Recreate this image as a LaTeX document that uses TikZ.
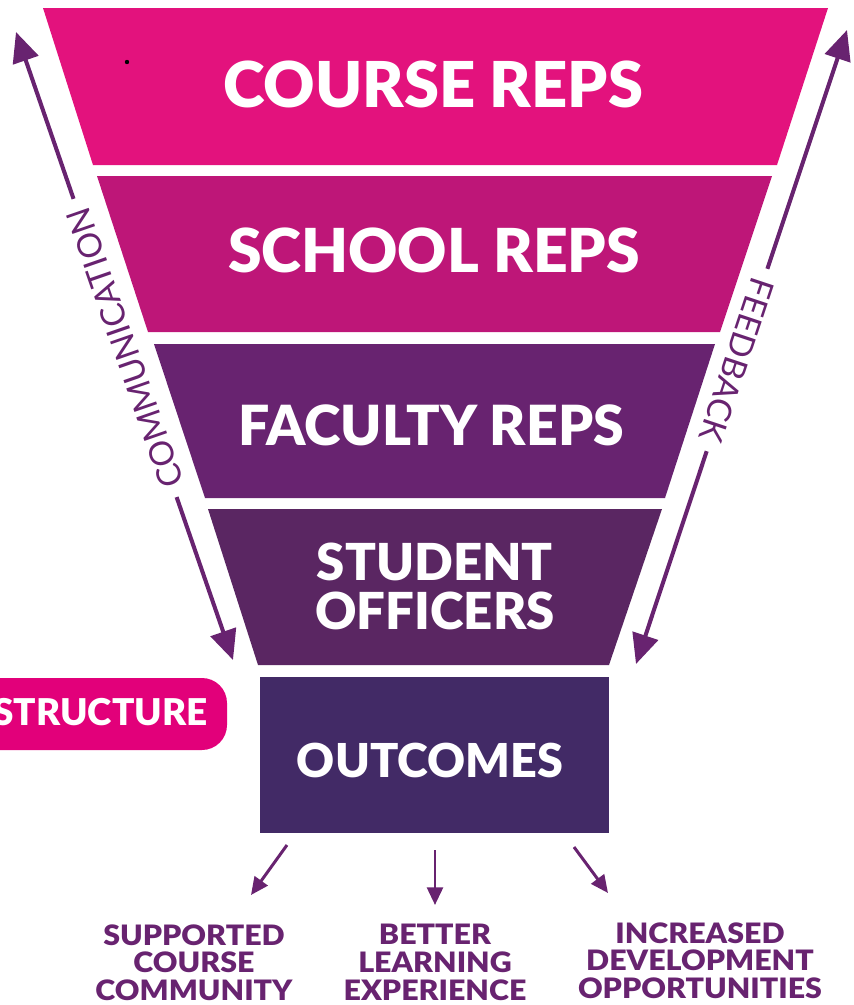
\documentclass[tikz,border=0pt]{standalone}
\usepackage{fontspec}
\setmainfont{Lato}
\newfontfamily\heavyfont{Lato Black}
\usepackage{tikz}
\usetikzlibrary{arrows.meta,positioning}
\definecolor{courseC}{RGB}{227,18,125}
\definecolor{schoolC}{RGB}{190,22,120}
\definecolor{facultyC}{RGB}{104,35,112}
\definecolor{officerC}{RGB}{90,38,98}
\definecolor{outcomeC}{RGB}{66,42,102}
\definecolor{arrowC}{RGB}{104,35,112}
\definecolor{pillC}{RGB}{226,0,122}
\tikzset{
  bandlab/.style={font=\heavyfont\fontsize{36}{40}\selectfont, text=white, inner sep=0pt, anchor=base},
  smalllab/.style={font=\heavyfont\fontsize{29}{36}\selectfont, text=white, inner sep=0pt, anchor=base},
  sidelab/.style={font=\fontsize{19}{22}\selectfont, text=arrowC, inner sep=6pt},
  flow/.style={line width=2.3pt, draw=arrowC, -{Triangle[length=17pt,width=15pt]}},
  outflow/.style={line width=1.7pt, draw=arrowC, -{Triangle[length=10pt,width=9pt]}},
  result/.style={font=\heavyfont\fontsize{16}{15.8}\selectfont, text=arrowC, align=center,
    inner sep=0pt, anchor=north, xscale=1.08},
  outbox/.style={fill=outcomeC, text=white, minimum width=6.98cm, minimum height=3.12cm, inner sep=0pt}
}

\begin{document}
\begin{tikzpicture}[x=0.02cm,y=-0.02cm]
\useasboundingbox (0,0) rectangle (853,1005);

% Funnel bands
\fill[courseC] (43,8) -- (828,8) -- (777,165) -- (93,165) -- cycle;
\fill[schoolC] (97,176) -- (772,176) -- (720,332) -- (148,332) -- cycle;
\fill[facultyC] (154,344) -- (715,344) -- (665,498) -- (205,498) -- cycle;
\fill[officerC] (208,509) -- (662,509) -- (609,665) -- (258,665) -- cycle;
\fill (127,62) circle (2.2);

\node[bandlab] (course) at (433,107) {COURSE REPS};
\node[bandlab, font=\heavyfont\fontsize{34.5}{40}\selectfont] (school) at (434,272) {SCHOOL REPS};
\node[bandlab, font=\heavyfont\fontsize{31.5}{40}\selectfont] (faculty) at (431,445) {FACULTY REPS};
\node[smalllab] (student) at (435,580) {STUDENT};
\node[smalllab] (officers) at (435,629) {OFFICERS};

% Outcomes box
\node[outbox] (outcomes) at (434.5,755) {};
\node[smalllab, font=\heavyfont\fontsize{26.6}{30}\selectfont] (outlab) at (430,777) {OUTCOMES};

% Structure tag
\fill[pillC, rounded corners=0.5cm] (-40,678) rectangle (227,750);
\node[font=\heavyfont\fontsize{21}{24}\selectfont, text=white, inner sep=0pt, anchor=base east]
  (structure) at (208,725) {STRUCTURE};

% Side arrows
\coordinate (commtop) at (16,32);
\coordinate (commbot) at (233,660);
\node[sidelab, rotate=109.1] (comm) at (125,348) {COMMUNICATION};
\draw[flow] (comm) -- (commtop);
\draw[flow] (comm) -- (commbot);

\coordinate (feedtop) at (847,30);
\coordinate (feedbot) at (636,664);
\node[sidelab, rotate=-108.4] (feed) at (737,360) {FEEDBACK};
\draw[flow] (feed) -- (feedtop);
\draw[flow] (feed) -- (feedbot);

% Results
\coordinate (out1) at (287,845);
\coordinate (out2) at (435,850);
\coordinate (out3) at (574,847);
\coordinate (res1tip) at (251,895);
\coordinate (res2tip) at (435,905);
\coordinate (res3tip) at (608,893);
\draw[outflow] (out1) -- (res1tip);
\draw[outflow] (out2) -- (res2tip);
\draw[outflow] (out3) -- (res3tip);

\node[result] (res1) at (194,924) {SUPPORTED\\COURSE\\COMMUNITY};
\node[result] (res2) at (435,924) {BETTER\\LEARNING\\EXPERIENCE};
\node[result] (res3) at (700,922) {INCREASED\\DEVELOPMENT\\OPPORTUNITIES};
\end{tikzpicture}
\end{document}
